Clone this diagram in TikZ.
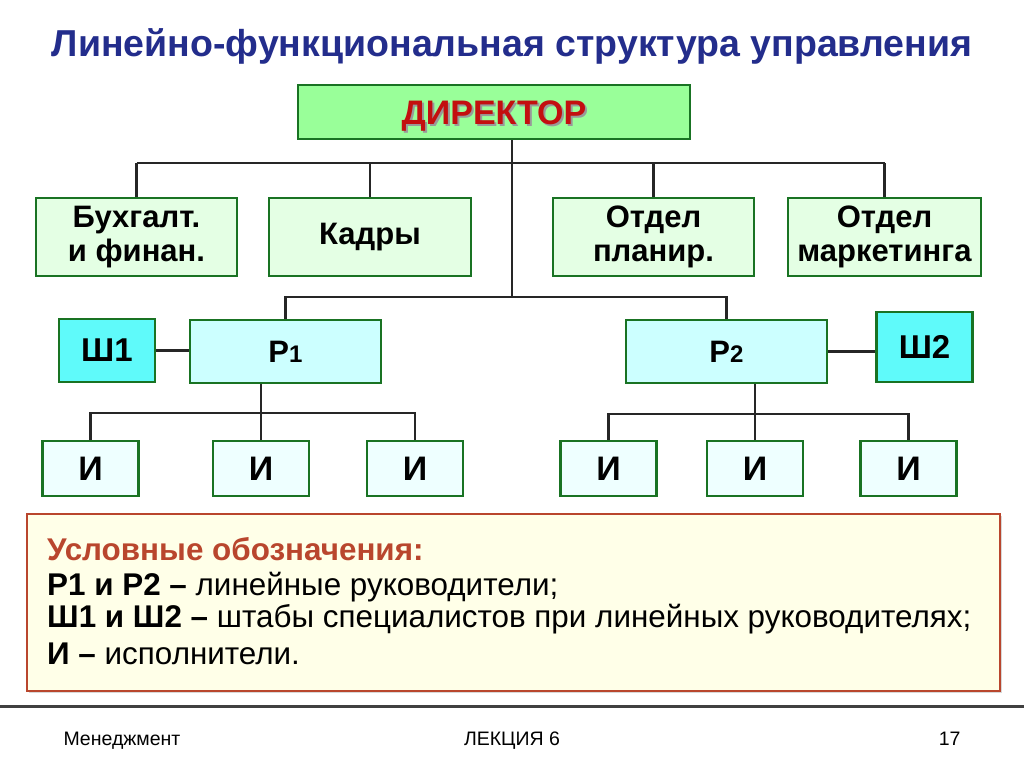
\documentclass[tikz,border=0pt]{standalone}
\usepackage{fontspec}
\setmainfont{Liberation Sans}
\usetikzlibrary{positioning,calc,shadows}
\definecolor{titleBlue}{RGB}{35,45,140}
\definecolor{boxGreen}{RGB}{25,115,35}
\definecolor{dirFill}{RGB}{153,255,153}
\definecolor{deptFill}{RGB}{228,255,228}
\definecolor{lineFill}{RGB}{204,255,255}
\definecolor{staffFill}{RGB}{95,250,250}
\definecolor{execFill}{RGB}{238,255,255}
\definecolor{legendRed}{RGB}{185,70,45}
\definecolor{legendFill}{RGB}{255,255,232}
\definecolor{dirRed}{RGB}{195,15,15}
\tikzset{
  orgbox/.style={draw=boxGreen,line width=2.5pt,inner sep=2pt,align=center,font=\fontsize{31}{34}\selectfont\bfseries},
  dirbox/.style={orgbox,fill=dirFill,minimum width=392pt,minimum height=54pt},
  deptbox/.style={orgbox,fill=deptFill,minimum height=78pt},
  linebox/.style={orgbox,fill=lineFill,minimum width=191pt,minimum height=63pt},
  staffbox/.style={orgbox,fill=staffFill,minimum width=96pt,minimum height=63pt,font=\fontsize{33}{35}\selectfont\bfseries},
  execbox/.style={orgbox,fill=execFill,minimum width=96pt,minimum height=55pt,font=\fontsize{34}{36}\selectfont\bfseries},
  conn/.style={draw=black!85,line width=2.5pt},
  legline/.style={anchor=base west,inner sep=0pt,font=\fontsize{31.4}{34}\selectfont},
  footer/.style={font=\fontsize{19.5}{22}\selectfont}
}
\newcommand{\legbold}[1]{\textbf{#1}}
\begin{document}
\begin{tikzpicture}[x=1pt,y=-1pt]
  \useasboundingbox[fill=white] (0,0) rectangle (1024,767);
  % title
  \node[font=\fontsize{37.5}{42}\selectfont\bfseries,text=titleBlue] (title) at (512,46) {Линейно-функциональная структура управления};
  % director
  \node[dirbox,font=\fontsize{34}{38}\selectfont\bfseries,text=dirRed,text height=28pt,text depth=2pt] (dir) at (494,112)
    {\smash{\makebox[0pt][l]{\hspace{2pt}\raisebox{-2pt}{\color{black!40}ДИРЕКТОР}}}ДИРЕКТОР};
  % departments
  \node[deptbox,minimum width=201pt] (buh) at (136.5,237) {Бухгалт.\\и финан.};
  \node[deptbox,minimum width=202pt] (kadry) at (370,237) {Кадры};
  \node[deptbox,minimum width=201pt] (plan) at (653.5,237) {Отдел\\планир.};
  \node[deptbox,minimum width=193pt] (mark) at (884.5,237) {Отдел\\маркетинга};
  % line managers and staffs
  \node[linebox] (p1) at (285.5,351.5) {Р{\fontsize{24}{26}\selectfont 1}};
  \node[linebox,minimum width=201pt] (p2) at (726.5,351.5) {Р{\fontsize{24}{26}\selectfont 2}};
  \node[staffbox] (sh1) at (107,350.5) {Ш1};
  \node[staffbox,minimum height=70pt] (sh2) at (924.5,347) {Ш2};
  % executors
  \node[execbox] (i1) at (90.5,468.5) {И};
  \node[execbox] (i2) at (261,468.5) {И};
  \node[execbox] (i3) at (415,468.5) {И};
  \node[execbox] (i4) at (608.5,468.5) {И};
  \node[execbox] (i5) at (755,468.5) {И};
  \node[execbox] (i6) at (908.5,468.5) {И};
  % bus points
  \coordinate (busA) at (512,163);
  \coordinate (busB) at (512,297);
  \coordinate (busC) at (261,413);
  \coordinate (busD) at (755,414);
  % connectors
  \draw[conn] (dir.south -| busA) -- (busB);
  \draw[conn] (buh.north |- busA) -- (mark.north |- busA);
  \foreach \n in {buh,kadry,plan,mark}
    \draw[conn] (\n.north) -- (\n.north |- busA);
  \draw[conn] (p1.north) |- (busB) -| (p2.north);
  \draw[conn] (sh1.east) -- (sh1.east -| p1.west);
  \draw[conn] (p2.east) -- (p2.east -| sh2.west);
  \draw[conn] (p1.south -| busC) -- (busC);
  \draw[conn] (i1.north) |- (busC) -| (i3.north);
  \draw[conn] (i2.north) -- (busC);
  \draw[conn] (p2.south -| busD) -- (busD);
  \draw[conn] (i4.north) |- (busD) -| (i6.north);
  \draw[conn] (i5.north) -- (busD);
  % legend
  \node[draw=legendRed,line width=2pt,fill=legendFill,drop shadow={shadow xshift=2pt,shadow yshift=-2pt,opacity=0.3},
        minimum width=973pt,minimum height=177pt,anchor=north west] (legend) at (26,513) {};
  \node[legline,text=legendRed,font=\fontsize{31.4}{34}\selectfont\bfseries] (leg0) at (47,560) {Условные обозначения:};
  \node[legline] (leg1) at (47,595) {\legbold{Р1 и Р2 –} линейные руководители;};
  \node[legline] (leg2) at (47,627) {\legbold{Ш1 и Ш2 –} штабы специалистов при линейных руководителях;};
  \node[legline] (leg3) at (47,664) {\legbold{И –} исполнители.};
  % footer
  \coordinate (footL) at (0,706);
  \coordinate (footR) at (1024,706);
  \draw[draw=black!75,line width=3pt] (footL) -- (footR);
  \node[footer,anchor=base west] (course) at (60,745) {Менеджмент};
  \node[footer,anchor=base] (lect) at (512,745) {ЛЕКЦИЯ 6};
  \node[footer,anchor=base east] (page) at (964,745) {17};
\end{tikzpicture}
\end{document}
